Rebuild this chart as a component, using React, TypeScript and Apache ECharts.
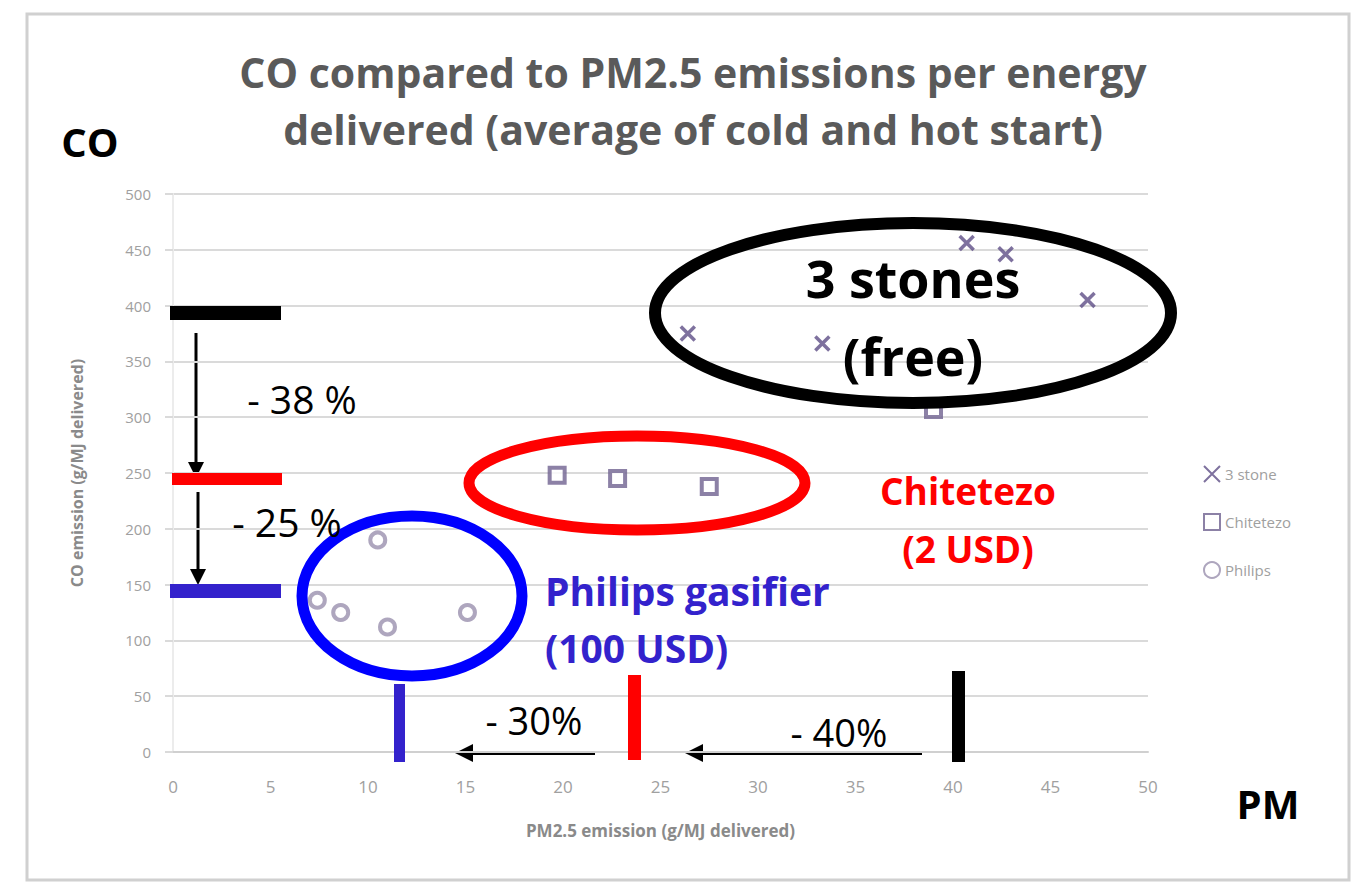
import React, { useEffect, useRef } from "react";
import * as echarts from "echarts";

const titleLines = ["CO compared to PM2.5 emissions per energy", "delivered (average of cold and hot start)"];
const xTicks = [0, 5, 10, 15, 20, 25, 30, 35, 40, 45, 50];
const yTicks = [0, 50, 100, 150, 200, 250, 300, 350, 400, 450, 500];
const seriesNames = ["3 stone", "Chitetezo", "Philips"];
const threeStone: [number, number][] = [
  [26.4, 375], [33.3, 366], [40.7, 456], [42.7, 446], [46.9, 405],
];
const chitetezo: [number, number][] = [
  [19.7, 248], [22.8, 245], [27.5, 238], [39.0, 307],
];
const philips: [number, number][] = [
  [7.4, 136], [8.6, 125], [11.0, 112], [15.1, 125], [10.5, 190],
];

const FONT = "'Open Sans', 'Noto Sans', sans-serif";
const BLUE = "#3322cc";

function arrowDown(x: number, y1: number, y2: number) {
  return [
    { type: "line", shape: { x1: x, y1, x2: x, y2: y2 - 14 }, style: { stroke: "#000", lineWidth: 3 } },
    { type: "polygon", shape: { points: [[x - 8, y2 - 16], [x + 8, y2 - 16], [x, y2]] }, style: { fill: "#000" } },
  ];
}
function arrowLeft(x1: number, x2: number, y: number) {
  return [
    { type: "line", shape: { x1, y1: y, x2: x2 + 14, y2: y }, style: { stroke: "#000", lineWidth: 4 } },
    { type: "polygon", shape: { points: [[x2 + 18, y - 9], [x2 + 18, y + 9], [x2, y]] }, style: { fill: "#000" } },
  ];
}
function txt(x: number, y: number, text: string, size: number, color: string, weight: string, align = "center") {
  return {
    type: "text", x, y, z: 20,
    style: { text, fontSize: size, fontWeight: weight, fill: color, fontFamily: FONT, align, verticalAlign: "middle" },
  };
}

export default function App() {
  const ref = useRef<HTMLDivElement>(null);
  useEffect(() => {
    if (!ref.current) return;
    const chart = echarts.init(ref.current, null, { renderer: "svg" });
    const markerColor = "#6f6290";
    chart.setOption({
      animation: false,
      backgroundColor: "#fff",
      title: {
        text: titleLines.join("\n"),
        left: 688,
        textAlign: "center",
        top: 38,
        textStyle: { fontSize: 41, fontWeight: "bold", color: "#5a5a5a", fontFamily: FONT, lineHeight: 57 },
      },
      legend: {
        orient: "vertical",
        left: 1198,
        top: 460,
        itemGap: 30,
        itemWidth: 16,
        itemHeight: 16,
        data: seriesNames,
        textStyle: { color: "#a0a0a0", fontSize: 15, fontFamily: FONT },
      },
      grid: { left: 173, right: 210, top: 194, bottom: 134 },
      xAxis: {
        type: "value",
        min: 0,
        max: 50,
        interval: 5,
        name: "PM2.5 emission (g/MJ delivered)",
        nameLocation: "middle",
        nameGap: 70,
        nameTextStyle: { color: "#8a8a8a", fontSize: 17, fontWeight: "bold", fontFamily: FONT },
        axisLine: { lineStyle: { color: "#d0d0d0", width: 2 } },
        axisTick: { show: false },
        splitLine: { show: false },
        axisLabel: { color: "#a0a0a0", fontSize: 17, fontFamily: FONT, margin: 26, formatter: (v: number) => (xTicks.includes(v) ? String(v) : "") },
      },
      yAxis: {
        type: "value",
        min: 0,
        max: 500,
        interval: 50,
        name: "CO emission (g/MJ delivered)",
        nameLocation: "middle",
        nameGap: 88,
        nameTextStyle: { color: "#8a8a8a", fontSize: 16, fontWeight: "bold", fontFamily: FONT },
        axisLine: { show: true, lineStyle: { color: "#ececec", width: 2 } },
        axisTick: { show: true, length: 8, lineStyle: { color: "#dadada", width: 2 } },
        splitLine: { lineStyle: { color: "#dadada", width: 2 } },
        axisLabel: { color: "#a0a0a0", fontSize: 15, fontFamily: FONT, margin: 22, formatter: (v: number) => (yTicks.includes(v) ? String(v) : "") },
      },
      series: [
        {
          name: seriesNames[0], type: "scatter", data: threeStone,
          symbol: "path://M0,0L10,10M10,0L0,10", symbolSize: 14,
          itemStyle: { color: "transparent", borderColor: "#5e4e86", borderWidth: 3.5 },
        },
        {
          name: seriesNames[1], type: "scatter", data: chitetezo,
          symbol: "rect", symbolSize: 15,
          itemStyle: { color: "#fff", borderColor: markerColor, borderWidth: 4 },
        },
        {
          name: seriesNames[2], type: "scatter", data: philips,
          symbol: "circle", symbolSize: 15,
          itemStyle: { color: "#fff", borderColor: "#9a90ae", borderWidth: 4 },
        },
      ],
      graphic: [
        { type: "rect", shape: { x: 27, y: 14, width: 1322, height: 866 }, style: { fill: "none", stroke: "#d0d0d0", lineWidth: 3 }, z: 1 },
        txt(90, 141, "CO", 40, "#000", "bold"),
        txt(1268, 803, "PM", 40, "#000", "bold"),
        // horizontal level bars
        { type: "rect", shape: { x: 170, y: 306, width: 111, height: 14 }, style: { fill: "#000" }, z: 15 },
        { type: "rect", shape: { x: 172, y: 473, width: 110, height: 12 }, style: { fill: "#ff0000" }, z: 15 },
        { type: "rect", shape: { x: 170, y: 584, width: 111, height: 14 }, style: { fill: BLUE }, z: 15 },
        ...arrowDown(196, 333, 478),
        ...arrowDown(198, 492, 585),
        txt(302, 398, "- 38 %", 39, "#000", "normal"),
        txt(287, 521, "- 25 %", 39, "#000", "normal"),
        // ellipses
        { type: "ellipse", shape: { cx: 412, cy: 596, rx: 110, ry: 80 }, style: { fill: "none", stroke: "#0000ff", lineWidth: 11 }, z: 14 },
        { type: "ellipse", shape: { cx: 637, cy: 483, rx: 168, ry: 47 }, style: { fill: "none", stroke: "#ff0000", lineWidth: 11 }, z: 14 },
        { type: "ellipse", shape: { cx: 913, cy: 313, rx: 258, ry: 90 }, style: { fill: "none", stroke: "#000", lineWidth: 12 }, z: 14 },
        txt(913, 277, "3 stones", 52, "#000", "bold"),
        txt(913, 355, "(free)", 52, "#000", "bold"),
        txt(968, 490, "Chitetezo", 37, "#ff0000", "bold"),
        txt(968, 548, "(2 USD)", 37, "#ff0000", "bold"),
        txt(545, 590, "Philips gasifier", 39, BLUE, "bold", "left"),
        txt(545, 647, "(100 USD)", 39, BLUE, "bold", "left"),
        // vertical level bars
        { type: "rect", shape: { x: 394, y: 684, width: 11, height: 78 }, style: { fill: BLUE }, z: 15 },
        { type: "rect", shape: { x: 628, y: 675, width: 13, height: 85 }, style: { fill: "#ff0000" }, z: 15 },
        { type: "rect", shape: { x: 952, y: 671, width: 13, height: 91 }, style: { fill: "#000" }, z: 15 },
        ...arrowLeft(595, 455, 753),
        ...arrowLeft(922, 685, 753),
        txt(534, 720, "- 30%", 38, "#000", "normal"),
        txt(839, 732, "- 40%", 38, "#000", "normal"),
      ],
    });
    return () => chart.dispose();
  }, []);
  return <div ref={ref} style={{ position: "fixed", left: 0, top: 0, width: 1358, height: 886 }} />;
}
